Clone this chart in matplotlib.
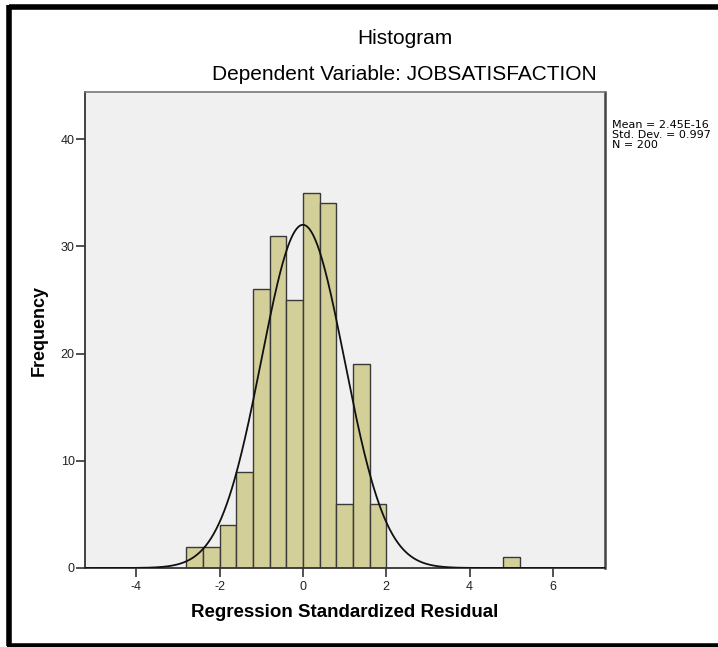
import numpy as np
import matplotlib.pyplot as plt
from matplotlib.lines import Line2D

plt.rcParams['font.family'] = ['Liberation Sans', 'DejaVu Sans']
plt.rcParams['axes.unicode_minus'] = False

# histogram bins (left edges, width 0.4) and counts
bin_left = [-2.8, -2.4, -2.0, -1.6, -1.2, -0.8, -0.4, 0.0, 0.4, 0.8, 1.2, 1.6, 4.8]
counts = [2, 2, 4, 9, 26, 31, 25, 35, 34, 6, 19, 6, 1]
bin_width = 0.4

mean = 2.45e-16
std = 0.997
n = 200

fig = plt.figure(figsize=(7.18, 6.47), dpi=100)
ax = fig.add_axes([85 / 718, 79 / 647, 520 / 718, 476 / 647])
ax.set_facecolor('#f0f0f0')

ax.bar(bin_left, counts, width=bin_width, align='edge',
       color='#d3cf98', edgecolor='#3a3a3a', linewidth=1.0, zorder=2)

# fitted normal curve
xs = np.linspace(-5.3, 7.3, 600)
ys = n * bin_width / (std * np.sqrt(2 * np.pi)) * np.exp(-0.5 * ((xs - mean) / std) ** 2)
ax.plot(xs, ys, color='#111111', linewidth=1.3, zorder=3)

ax.set_xlim(-5.23, 7.25)
ax.set_ylim(0, 44.4)
ax.set_xticks([-4, -2, 0, 2, 4, 6])
ax.set_yticks([0, 10, 20, 30, 40])
ax.tick_params(direction='out', length=6.5, width=1.2, color='#333333',
               labelsize=9, labelcolor='#222222', pad=1)
ax.tick_params(axis='x', pad=3)

for side in ['left', 'bottom']:
    ax.spines[side].set_color('#333333')
    ax.spines[side].set_linewidth(1.3)
ax.spines['top'].set_color('#777777')
ax.spines['top'].set_linewidth(1.2)
ax.spines['right'].set_color('#444444')
ax.spines['right'].set_linewidth(1.8)

ax.set_xlabel('Regression Standardized Residual', fontsize=13.5, fontweight='bold', labelpad=8)
ax.set_ylabel('Frequency', fontsize=13, fontweight='bold', labelpad=9)

fig.text(405 / 718, 1 - 38 / 647, 'Histogram', ha='center', va='center', fontsize=15)
fig.text(404 / 718, 1 - 75 / 647, 'Dependent Variable: JOBSATISFACTION',
         ha='center', va='center', fontsize=15)

fig.text(612 / 718, 1 - 120 / 647, 'Mean = 2.45E-16\nStd. Dev. = 0.997\nN = 200',
         ha='left', va='top', fontsize=8, linespacing=1.0, family=['DejaVu Sans'])

# black frame around the chart (top, left, bottom)
frame = dict(color='black', linewidth=4, solid_capstyle='butt', transform=fig.transFigure)
fig.add_artist(Line2D([9 / 718, 1], [1 - 7 / 647, 1 - 7 / 647], **frame))
fig.add_artist(Line2D([9 / 718, 9 / 718], [1 - 5 / 647, 1 / 647], **frame))
fig.add_artist(Line2D([7 / 718, 1], [1.5 / 647, 1.5 / 647], **frame))

fig.savefig('out.png', dpi=100)
